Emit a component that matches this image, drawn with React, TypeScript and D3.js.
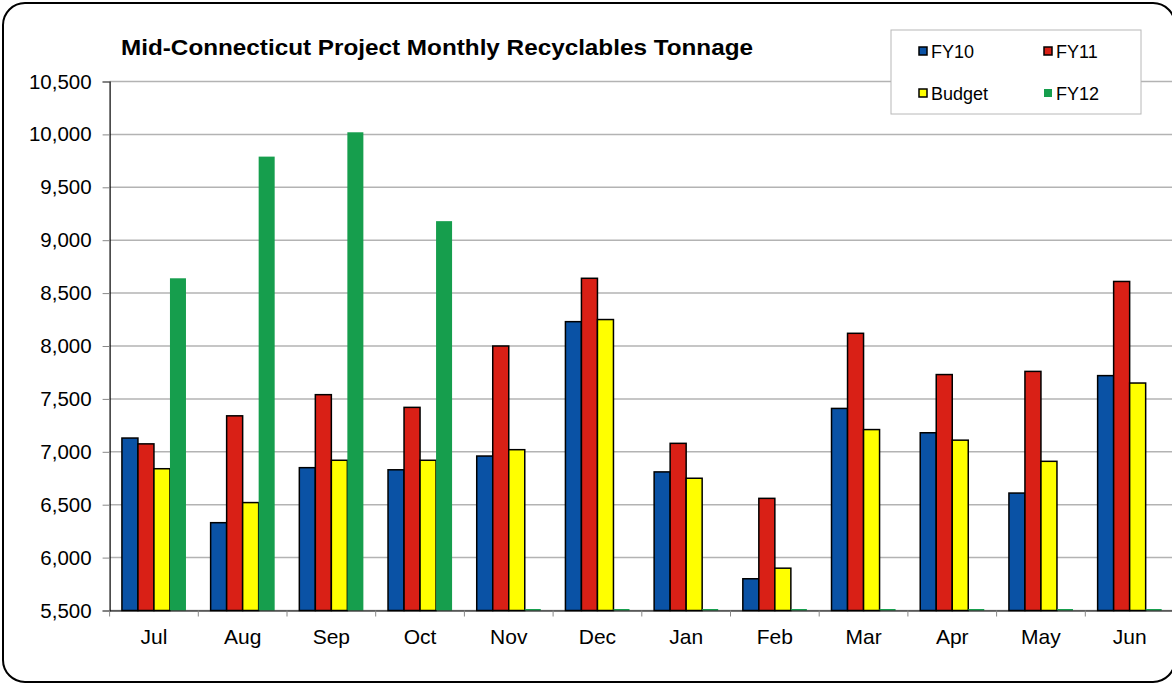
import React, { useEffect, useRef } from "react";
import * as d3 from "d3";

const months = ["Jul", "Aug", "Sep", "Oct", "Nov", "Dec", "Jan", "Feb", "Mar", "Apr", "May", "Jun"];
const fy10 = [7130, 6330, 6850, 6830, 6960, 8230, 6810, 5800, 7410, 7180, 6610, 7720];
const fy11 = [7075, 7340, 7540, 7420, 8000, 8640, 7080, 6560, 8120, 7730, 7760, 8610];
const budget = [6840, 6520, 6920, 6920, 7020, 8250, 6750, 5900, 7210, 7110, 6910, 7650];
const fy12 = [8640, 9790, 10020, 9180, 0, 0, 0, 0, 0, 0, 0, 0];
const yTicks = [5500, 6000, 6500, 7000, 7500, 8000, 8500, 9000, 9500, 10000, 10500];

const seriesNames = ["FY10", "FY11", "Budget", "FY12"];
const seriesColors = ["#0a52a5", "#d92016", "#ffff00", "#169e4d"];

const App = () => {
  const svgRef = useRef<SVGSVGElement>(null);

  useEffect(() => {
    const svg = d3.select(svgRef.current);
    svg.selectAll("*").remove();

    const left = 109.6;
    const top = 81.5;
    const bottom = 610.5;
    const band = 88.7;
    const right = left + band * months.length;
    const font = "Arial, 'Liberation Sans', sans-serif";

    // outer frame
    svg.append("rect")
      .attr("x", 3).attr("y", 3)
      .attr("width", 1172).attr("height", 679)
      .attr("rx", 22)
      .attr("fill", "white")
      .attr("stroke", "black")
      .attr("stroke-width", 2);

    const x = d3.scaleBand().domain(months).range([left, right]).paddingInner(0.278).paddingOuter(0.139);
    const xs = d3.scaleBand().domain(seriesNames).range([0, x.bandwidth()]);
    const y = d3.scaleLinear().domain([5500, 10500]).range([bottom, top]);

    // gridlines
    svg.append("g")
      .selectAll("line")
      .data(yTicks)
      .enter()
      .append("line")
      .attr("x1", left).attr("x2", right)
      .attr("y1", d => y(d)).attr("y2", d => y(d))
      .attr("stroke", "#b3b3b3")
      .attr("stroke-width", 1.5);

    // y axis
    const yAxis = svg.append("g")
      .attr("transform", `translate(${left},0)`)
      .call(d3.axisLeft(y).tickValues(yTicks).tickSize(7).tickPadding(11).tickFormat(d3.format(",")));
    yAxis.select(".domain").attr("stroke", "black").attr("stroke-width", 1.2);
    yAxis.selectAll(".tick line").attr("stroke", "#888");
    yAxis.selectAll("text").attr("font-family", font).attr("font-size", 20.5).attr("fill", "black");

    // bars
    const allSeries = [fy10, fy11, budget, fy12];
    allSeries.forEach((vals, si) => {
      svg.append("g")
        .selectAll("rect")
        .data(vals)
        .enter()
        .append("rect")
        .attr("x", (_, i) => (x(months[i]) as number) + (xs(seriesNames[si]) as number))
        .attr("width", xs.bandwidth())
        .attr("y", d => y(Math.max(d, 5500)) - (d < 5500 ? 1.5 : 0))
        .attr("height", d => Math.max(bottom - y(Math.max(d, 5500)), 0) + (d < 5500 ? 1.5 : 0))
        .attr("fill", seriesColors[si])
        .attr("stroke", si === 3 ? "none" : "black")
        .attr("stroke-width", 1.5);
    });

    // x axis
    const xAxis = svg.append("g")
      .attr("transform", `translate(0,${bottom})`)
      .call(d3.axisBottom(x).tickSize(0).tickPadding(19));
    xAxis.select(".domain").attr("stroke", "black").attr("stroke-width", 1.2);
    xAxis.selectAll("text").attr("font-family", font).attr("font-size", 21).attr("fill", "black");
    svg.append("g")
      .selectAll("line")
      .data(d3.range(months.length + 1))
      .enter()
      .append("line")
      .attr("x1", i => left + i * band).attr("x2", i => left + i * band)
      .attr("y1", bottom).attr("y2", bottom + 6)
      .attr("stroke", "#888");

    // title
    svg.append("text")
      .attr("x", 121).attr("y", 55)
      .attr("font-family", font)
      .attr("font-weight", "bold")
      .attr("font-size", 22.5)
      .attr("textLength", 632)
      .attr("lengthAdjust", "spacingAndGlyphs")
      .text("Mid-Connecticut Project Monthly Recyclables Tonnage");

    // legend
    const lg = svg.append("g");
    lg.append("rect")
      .attr("x", 891).attr("y", 30)
      .attr("width", 250).attr("height", 84)
      .attr("fill", "white")
      .attr("stroke", "#b8b8b8");
    const pos = [[919, 51], [1044, 51], [919, 93], [1044, 93]];
    seriesNames.forEach((name, i) => {
      lg.append("rect")
        .attr("x", pos[i][0]).attr("y", pos[i][1] - 4)
        .attr("width", 8).attr("height", 8)
        .attr("fill", seriesColors[i])
        .attr("stroke", i === 3 ? "none" : "black")
        .attr("stroke-width", 1.5);
      lg.append("text")
        .attr("x", pos[i][0] + 12).attr("y", pos[i][1] + 6.5)
        .attr("font-family", font)
        .attr("font-size", 18)
        .text(name);
    });
  }, []);

  return (
    <svg
      ref={svgRef}
      width={1172}
      height={685}
      style={{ position: "absolute", left: 0, top: 0 }}
    ></svg>
  );
};

export default App;
